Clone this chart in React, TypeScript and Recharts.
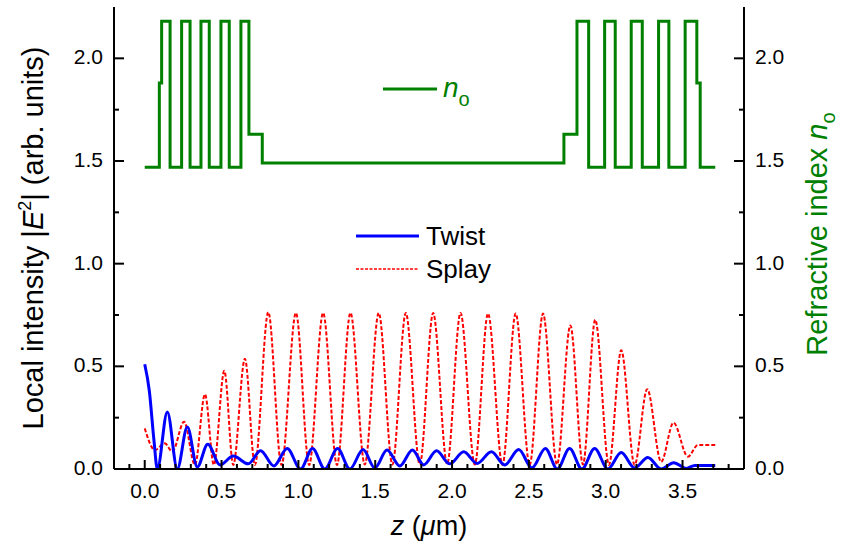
import React from "react"
import { Line, LineChart, XAxis, YAxis } from "recharts"

// z positions (um) and local intensity
const twistZ = [0, 0.03, 0.06, 0.082, 0.147, 0.212, 0.277, 0.342, 0.41, 0.49, 0.576, 0.674, 0.754, 0.84, 0.927, 1.014, 1.092, 1.172, 1.255, 1.335, 1.421, 1.497, 1.577, 1.66, 1.742, 1.816, 1.899, 1.985, 2.076, 2.163, 2.256, 2.343, 2.434, 2.52, 2.607, 2.685, 2.765, 2.845, 2.928, 3.014, 3.101, 3.188, 3.274, 3.361, 3.443, 3.524, 3.58, 3.713]
const twistI = [0.51, 0.38, 0.14, 0, 0.278, 0, 0.205, 0.01, 0.121, 0.02, 0.063, 0.025, 0.089, 0.015, 0.1, 0, 0.1, 0, 0.1, 0, 0.095, 0.005, 0.092, 0.015, 0.092, 0.02, 0.089, 0.025, 0.084, 0.027, 0.084, 0.02, 0.095, 0.005, 0.1, 0, 0.1, 0, 0.1, 0, 0.08, 0.005, 0.056, 0, 0.031, 0.003, 0.017, 0.017]

const splayZ = [0, 0.067, 0.13, 0.18, 0.256, 0.327, 0.392, 0.45, 0.518, 0.576, 0.652, 0.717, 0.804, 0.89, 0.984, 1.07, 1.161, 1.251, 1.339, 1.432, 1.523, 1.612, 1.699, 1.79, 1.877, 1.968, 2.055, 2.148, 2.234, 2.328, 2.414, 2.505, 2.592, 2.683, 2.77, 2.852, 2.932, 3.021, 3.101, 3.188, 3.27, 3.361, 3.441, 3.535, 3.6, 3.713]
const splayI = [0.198, 0.092, 0.125, 0.085, 0.23, 0.02, 0.364, 0.02, 0.478, 0.02, 0.537, 0.02, 0.764, 0.02, 0.76, 0.02, 0.76, 0.02, 0.76, 0.022, 0.76, 0.022, 0.76, 0.022, 0.76, 0.025, 0.76, 0.022, 0.757, 0.02, 0.757, 0.02, 0.757, 0.022, 0.699, 0.022, 0.727, 0.02, 0.578, 0.02, 0.389, 0.035, 0.225, 0.06, 0.117, 0.117]

// refractive index profile, each value holds until the next z
const nZ = [0, 0.095, 0.11, 0.165, 0.24, 0.295, 0.366, 0.42, 0.496, 0.55, 0.626, 0.678, 0.765, 2.728, 2.813, 2.889, 2.993, 3.062, 3.166, 3.238, 3.344, 3.411, 3.517, 3.593, 3.615, 3.713]
const nVal = [1.47, 1.88, 2.18, 1.47, 2.18, 1.47, 2.18, 1.47, 2.18, 1.47, 2.18, 1.63, 1.49, 1.63, 2.18, 1.47, 2.18, 1.47, 2.18, 1.47, 2.18, 1.47, 2.18, 1.88, 1.47, 1.47]

const xTicks = Array.from({ length: 42 }, (_, i) => (i - 2) / 10)
const yTicks = [0, 0.25, 0.5, 0.75, 1, 1.25, 1.5, 1.75, 2]

const twist = twistZ.map((z, i) => ({ z, v: twistI[i] }))
const splay = splayZ.map((z, i) => ({ z, v: splayI[i] }))
const index = nZ.map((z, i) => ({ z, v: nVal[i] }))

const FONT = "'Liberation Sans', Arial, sans-serif"
const isHalf = (v: number) => Math.abs(v * 2 - Math.round(v * 2)) < 1e-6

const BottomTick = (props: any) => {
  const { x, y, payload } = props
  const v = payload.value
  const major = isHalf(v)
  return (
    <g>
      <line x1={x} x2={x} y1={y} y2={y - (major ? 9 : 5)} stroke="#000" strokeWidth={2} />
      {major && v >= 0 && (
        <text x={x} y={y + 29} textAnchor="middle" fontSize={21} fontFamily={FONT} fill="#000">
          {v.toFixed(1)}
        </text>
      )}
    </g>
  )
}

const TopTick = (props: any) => {
  const { x, y, payload } = props
  const major = isHalf(payload.value)
  return <line x1={x} x2={x} y1={y} y2={y + (major ? 9 : 5)} stroke="#000" strokeWidth={2} />
}

const LeftTick = (props: any) => {
  const { x, y, payload } = props
  const v = payload.value
  const major = isHalf(v)
  return (
    <g>
      <line x1={x} x2={x + (major ? 10 : 5)} y1={y} y2={y} stroke="#000" strokeWidth={2} />
      {major && (
        <text x={x - 11} y={y + 6} textAnchor="end" fontSize={21} fontFamily={FONT} fill="#000">
          {v.toFixed(1)}
        </text>
      )}
    </g>
  )
}

const RightTick = (props: any) => {
  const { x, y, payload } = props
  const v = payload.value
  const major = isHalf(v)
  return (
    <g>
      <line x1={x} x2={x - (major ? 10 : 5)} y1={y} y2={y} stroke="#000" strokeWidth={2} />
      {major && (
        <text x={x + 11} y={y + 6} textAnchor="start" fontSize={21} fontFamily={FONT} fill="#000">
          {v.toFixed(1)}
        </text>
      )}
    </g>
  )
}

export default function App() {
  return (
    <div style={{ position: "absolute", left: 0, top: 0, width: 847, height: 554, background: "#fff" }}>
      <LineChart width={847} height={554} margin={{ top: 7, right: 43, bottom: 45, left: 54 }}>
        <XAxis
          dataKey="z"
          type="number"
          domain={[-0.2, 3.9]}
          ticks={xTicks}
          interval={0}
          tickSize={0}
          tickMargin={0}
          height={40}
          tick={<BottomTick />}
          axisLine={{ stroke: "#000", strokeWidth: 2 }}
          allowDataOverflow
        />
        <XAxis
          xAxisId="top"
          orientation="top"
          dataKey="z"
          type="number"
          domain={[-0.2, 3.9]}
          ticks={xTicks}
          interval={0}
          tickSize={0}
          tickMargin={0}
          height={0}
          tick={<TopTick />}
          axisLine={{ stroke: "#000", strokeWidth: 2 }}
          allowDataOverflow
        />
        <YAxis
          yAxisId="left"
          type="number"
          domain={[0, 2.25]}
          ticks={yTicks}
          interval={0}
          tickSize={0}
          tickMargin={0}
          width={60}
          tick={<LeftTick />}
          axisLine={{ stroke: "#000", strokeWidth: 2 }}
          allowDataOverflow
        />
        <YAxis
          yAxisId="right"
          orientation="right"
          type="number"
          domain={[0, 2.25]}
          ticks={yTicks}
          interval={0}
          tickSize={0}
          tickMargin={0}
          width={60}
          tick={<RightTick />}
          axisLine={{ stroke: "#000", strokeWidth: 2 }}
          allowDataOverflow
        />
        <Line
          xAxisId="top"
          yAxisId="right"
          data={index}
          dataKey="v"
          type="stepAfter"
          stroke="#008000"
          strokeWidth={3}
          dot={false}
          activeDot={false}
          isAnimationActive={false}
        />
        <Line
          yAxisId="left"
          data={splay}
          dataKey="v"
          type="monotone"
          stroke="#ff0000"
          strokeWidth={2}
          strokeDasharray="4 2"
          dot={false}
          activeDot={false}
          isAnimationActive={false}
        />
        <Line
          yAxisId="left"
          data={twist}
          dataKey="v"
          type="monotone"
          stroke="#0000ff"
          strokeWidth={3}
          dot={false}
          activeDot={false}
          isAnimationActive={false}
        />
      </LineChart>
      <svg
        width={847}
        height={554}
        style={{ position: "absolute", left: 0, top: 0, pointerEvents: "none" }}
        fontFamily={FONT}
      >
        <text transform="translate(43,238) rotate(-90)" textAnchor="middle" fontSize={29} fill="#000">
          Local intensity |<tspan fontStyle="italic">E</tspan>
          <tspan dy={-12} fontSize={18}>2</tspan>
          <tspan dy={12}>| (arb. units)</tspan>
        </text>
        <text transform="translate(827,234) rotate(-90)" textAnchor="middle" fontSize={29} fill="#008000">
          Refractive index <tspan fontStyle="italic">n</tspan>
          <tspan dy={8} fontSize={20}>o</tspan>
        </text>
        <text x={429} y={535} textAnchor="middle" fontSize={27} fill="#000">
          <tspan fontStyle="italic">z</tspan> (<tspan fontStyle="italic">μ</tspan>m)
        </text>

        <line x1={383} x2={437} y1={89} y2={89} stroke="#008000" strokeWidth={3} />
        <text x={443} y={97} fontSize={28} fill="#008000">
          <tspan fontStyle="italic">n</tspan>
          <tspan dy={9} fontSize={20}>o</tspan>
        </text>

        <line x1={356} x2={419} y1={236} y2={236} stroke="#0000ff" strokeWidth={3} />
        <text x={426} y={245} fontSize={26} fill="#000">Twist</text>
        <line x1={356} x2={419} y1={269} y2={269} stroke="#ff0000" strokeWidth={1.5} strokeDasharray="3 1.5" />
        <text x={426} y={278} fontSize={26} fill="#000">Splay</text>
      </svg>
    </div>
  )
}
